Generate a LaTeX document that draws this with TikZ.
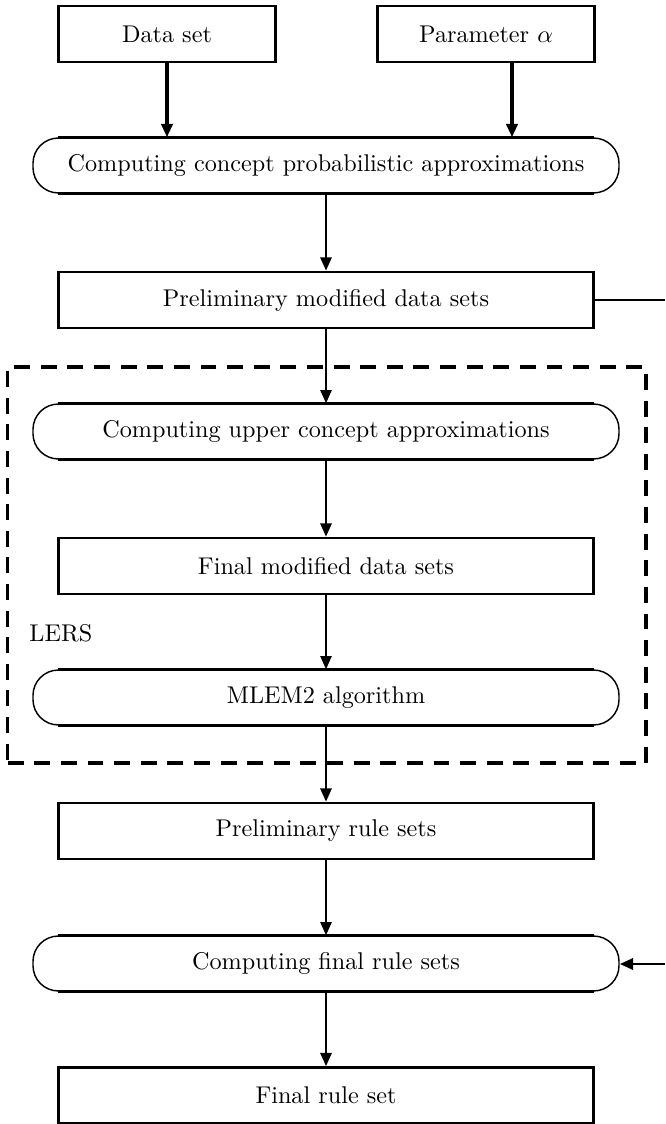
\documentclass[tikz,border=0pt]{standalone}
\usetikzlibrary{arrows.meta}

\tikzset{
  rectbox/.style={draw, line width=1.1pt, minimum width=221.3pt, minimum height=23.1pt, inner sep=0pt},
  inbox/.style={rectbox, minimum width=89.8pt},
  roundbox/.style={draw, line width=0.6pt, rounded corners=10.5pt, minimum width=242.2pt, minimum height=22.7pt, inner sep=0pt},
  flatedge/.style={line width=1.4pt},
  arr/.style={line width=1pt, -{Triangle[length=5.5pt,width=4.6pt]}},
  toparr/.style={arr, line width=1.4pt},
  plain/.style={line width=1pt},
  lersframe/.style={draw, line width=1.3pt, dash pattern=on 6.6pt off 4.4pt, minimum width=263.8pt, minimum height=163.7pt, inner sep=0pt},
}

% thicker straight top and bottom edges on a rounded box
\newcommand\flatedges[1]{%
  \draw[flatedge] ([xshift=10.5pt]#1.north west) -- ([xshift=-10.5pt]#1.north east);
  \draw[flatedge] ([xshift=10.5pt]#1.south west) -- ([xshift=-10.5pt]#1.south east);
}

\begin{document}
\begin{tikzpicture}[x=0.4133pt, y=-0.4133pt]
  \useasboundingbox (0,0) rectangle (665,1124);

  % LERS frame
  \node[lersframe] (lers) at (326.8,565) {};
  \node[anchor=west, inner sep=0pt] (lerslabel) at (29,633) {LERS};

  % inputs
  \node[inbox] (data) at (167,34) {Data set};
  \node[inbox] (param) at (486,34) {Parameter $\alpha$};

  % main column
  \node[roundbox] (cprob) at (326,165.5) {Computing concept probabilistic approximations};
  \node[rectbox] (pmod) at (326,300) {Preliminary modified data sets};
  \node[roundbox] (cupper) at (326,431.5) {Computing upper concept approximations};
  \node[rectbox] (fmod) at (326,566) {Final modified data sets};
  \node[roundbox] (mlem) at (326,697.5) {MLEM2 algorithm};
  \node[rectbox] (prule) at (326,831) {Preliminary rule sets};
  \node[roundbox] (cfinal) at (326,963.5) {Computing final rule sets};
  \node[rectbox] (frule) at (326,1095.5) {Final rule set};

  \flatedges{cprob}
  \flatedges{cupper}
  \flatedges{mlem}
  \flatedges{cfinal}

  % side connection
  \coordinate (pout) at (665,300);
  \coordinate (pin) at (665,964);
  \coordinate (pcol) at (512,0);

  % connectors
  \draw[toparr] (data.south) -- (data.south |- cprob.north);
  \draw[toparr] (param.south -| pcol) -- (cprob.north -| pcol);
  \draw[arr] (cprob.south) -- (pmod.north);
  \draw[arr] (pmod.south) -- (cupper.north);
  \draw[arr] (cupper.south) -- (fmod.north);
  \draw[arr] (fmod.south) -- (mlem.north);
  \draw[arr] (mlem.south) -- (prule.north);
  \draw[arr] (prule.south) -- (cfinal.north);
  \draw[arr] (cfinal.south) -- (frule.north);
  \draw[plain] (pmod.east) -- (pout);
  \draw[arr, line width=1.2pt] (pin) -- (cfinal.east |- pin);
\end{tikzpicture}
\end{document}
